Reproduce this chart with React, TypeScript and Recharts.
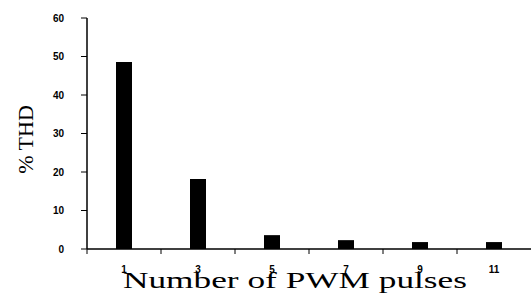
import { BarChart, Bar, XAxis, YAxis } from 'recharts';

const pulses = ['1', '3', '5', '7', '9', '11'];
const thd = [48.6, 18.2, 3.6, 2.3, 1.8, 1.8];
const yTicks = [0, 10, 20, 30, 40, 50, 60];

const data = pulses.map((p, i) => ({ pulses: p, thd: thd[i] }));

const W = 531;
const H = 294;
const LEFT = 87;
const band = (W - LEFT) / pulses.length;

const XTick = (props: any) => {
  const { x, y, payload } = props;
  return (
    <g>
      <line x1={x - band / 2} y1={y} x2={x - band / 2} y2={y + 5} stroke="#000" strokeWidth={1} />
      <text
        x={x}
        y={y + 24}
        textAnchor="middle"
        fontFamily="Liberation Sans, Arial, sans-serif"
        fontWeight="bold"
        fontSize={10}
        fill="#000"
      >
        {payload.value}
      </text>
    </g>
  );
};

const YTick = (props: any) => {
  const { x, y, payload } = props;
  return (
    <text
      x={x}
      y={y}
      textAnchor="end"
      dominantBaseline="central"
      fontFamily="Liberation Sans, Arial, sans-serif"
      fontWeight="bold"
      fontSize={10}
      fill="#000"
    >
      {payload.value}
    </text>
  );
};

const XLabel = (props: any) => {
  const { viewBox } = props;
  const cx = viewBox.x + viewBox.width / 2 - 14;
  return (
    <text
      x={cx}
      y={viewBox.y + 39}
      textAnchor="middle"
      fontFamily="Liberation Serif, Times New Roman, serif"
      fontSize={24}
      textLength={344}
      lengthAdjust="spacingAndGlyphs"
      fill="#000"
    >
      Number of PWM  pulses
    </text>
  );
};

const YLabel = (props: any) => {
  const { viewBox } = props;
  const cy = viewBox.y + viewBox.height / 2 + 6;
  const cx = 25;
  return (
    <text
      x={cx}
      y={cy}
      transform={`rotate(-90 ${cx} ${cy})`}
      textAnchor="middle"
      dominantBaseline="central"
      fontFamily="Liberation Serif, Times New Roman, serif"
      fontSize={22}
      fill="#000"
    >
      % THD
    </text>
  );
};

export default function App() {
  return (
    <div style={{ position: 'fixed', left: 0, top: 0, background: '#fff' }}>
      <BarChart width={W} height={H} data={data} margin={{ top: 18, right: 0, bottom: 0, left: 0 }}>
        <XAxis
          dataKey="pulses"
          axisLine={{ stroke: '#000', strokeWidth: 1.5 }}
          tickLine={false}
          tickSize={0}
          tickMargin={0}
          tick={<XTick />}
          interval={0}
          height={45}
          label={<XLabel />}
        />
        <YAxis
          width={LEFT}
          domain={[0, 60]}
          ticks={yTicks}
          interval={0}
          axisLine={{ stroke: '#000', strokeWidth: 1.5 }}
          tickLine={{ stroke: '#000' }}
          tickSize={6}
          tickMargin={17}
          tick={<YTick />}
          label={<YLabel />}
        />
        <Bar dataKey="thd" fill="#000" barSize={16} isAnimationActive={false} />
      </BarChart>
    </div>
  );
}
